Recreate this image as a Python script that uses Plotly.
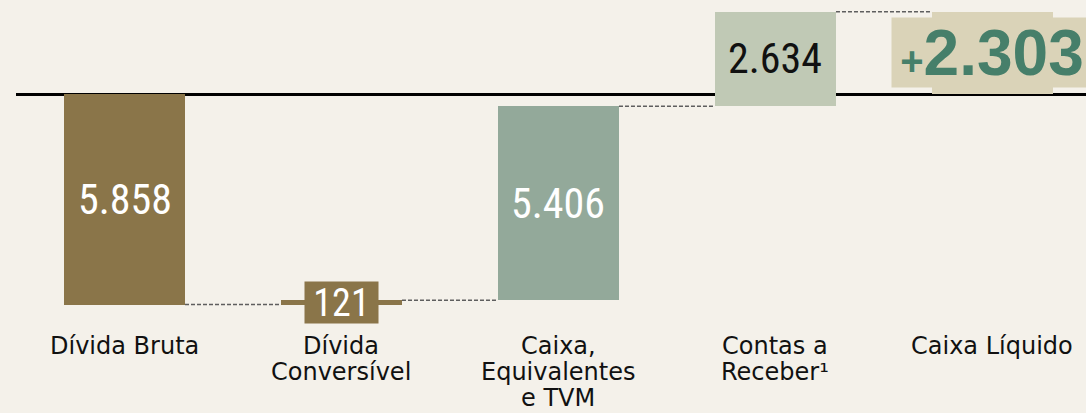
import plotly.graph_objects as go

# ---- data ----
categories = ["Dívida Bruta", "Dívida<br>Conversível", "Caixa,<br>Equivalentes<br>e TVM",
              "Contas a<br>Receber¹", "Caixa Líquido"]
values = [-5858, 121, 5406, 2634, 2303]
measures = ["relative", "relative", "relative", "relative", "total"]
bar_colors = ["#8A7549", "#8A7549", "#93A99A", "#C0C9B5", "#DAD3B8"]
label_colors = ["#FFFFFF", "#FFFFFF", "#FFFFFF", "#111111", "#467F6A"]

BG = "#F4F1EA"
BAR_W = 0.5576
NUM_FONT = "Liberation Sans Narrow, Roboto Condensed, Roboto, sans-serif"
CAT_FONT = "DejaVu Sans, sans-serif"


def fmt(v):
    return f"{abs(v):,}".replace(",", ".")


# running bases for the waterfall
bases, tops = [], []
running = 0
for v, m in zip(values, measures):
    if m == "total":
        bases.append(0)
        tops.append(v)
    else:
        bases.append(running)
        running += v
        tops.append(running)

x = list(range(len(categories)))

fig = go.Figure()
fig.add_trace(go.Bar(
    x=x, y=values, base=bases, width=BAR_W,
    marker=dict(color=bar_colors, line=dict(width=0)),
    hoverinfo="skip", showlegend=False,
))

# dashed connectors
shapes = []
for i in range(len(categories) - 1):
    shapes.append(dict(
        type="line", xref="x", yref="y",
        x0=i + BAR_W / 2, x1=i + 1 - BAR_W / 2, y0=tops[i], y1=tops[i],
        line=dict(color="#5E5E5E", width=1.5, dash="4px,2px"), layer="above",
    ))

annotations = []
# value labels
for i, (v, m) in enumerate(zip(values, measures)):
    mid = bases[i] + v / 2
    if m == "total":
        annotations.append(dict(
            x=i, y=mid, xref="x", yref="y", showarrow=False,
            text="<span style='font-size:40px'>+</span>" + fmt(v),
            font=dict(family="Liberation Sans, Arial, sans-serif", size=64, color=label_colors[i], weight="bold"),
            bgcolor=bar_colors[i], borderpad=0, width=200, height=69,
        ))
    elif abs(v) < 500:
        annotations.append(dict(
            x=i, y=mid, xref="x", yref="y", showarrow=False, text=fmt(v),
            font=dict(family=NUM_FONT, size=38, color=label_colors[i]),
            bgcolor=bar_colors[i], borderpad=0, width=73, height=41,
        ))
    else:
        annotations.append(dict(
            x=i, y=mid, xref="x", yref="y", showarrow=False, text=fmt(v),
            font=dict(family=NUM_FONT, size=42, color=label_colors[i]),
        ))

# category labels (one annotation per line)
H = 413
for i, cat in enumerate(categories):
    for j, line in enumerate(cat.split("<br>")):
        ypx = 346 + j * 26
        annotations.append(dict(
            x=i, y=1 - ypx / H, xref="x", yref="paper", showarrow=False,
            yanchor="middle", text=line,
            font=dict(family=CAT_FONT, size=24, color="#111111"),
        ))

fig.update_layout(
    width=1086, height=413,
    margin=dict(l=16, r=0, t=0, b=0),
    paper_bgcolor=BG, plot_bgcolor=BG,
    shapes=shapes, annotations=annotations,
    xaxis=dict(range=[-0.5, 4.431], showgrid=False, zeroline=False, showticklabels=False,
               fixedrange=True),
    yaxis=dict(range=[-8877, 2627], showgrid=False, zeroline=True, zerolinecolor="#000000",
               zerolinewidth=2.5, showticklabels=False, fixedrange=True),
    bargap=0,
)

fig.write_html("out.html", config={"displayModeBar": False},
               post_script="document.body.style.margin='0px';document.body.style.background='%s';" % BG)
